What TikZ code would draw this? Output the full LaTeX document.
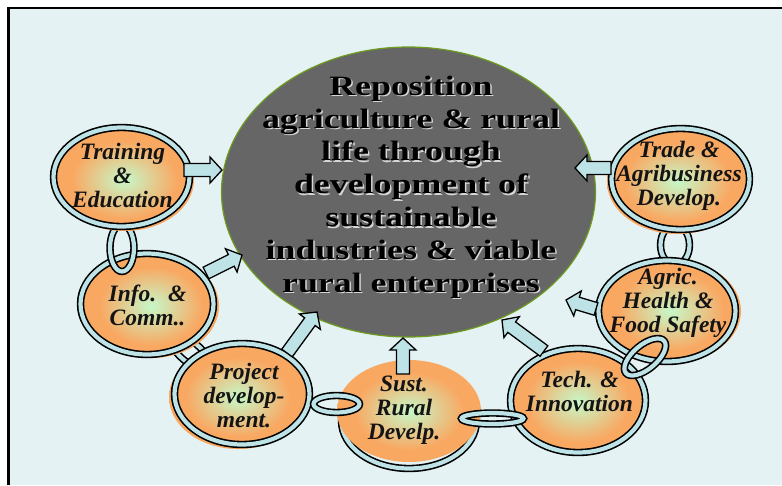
\documentclass[tikz,border=0pt]{standalone}
\usepackage{fontspec}
\usetikzlibrary{shapes.geometric,calc}
\newfontfamily\cfont[FakeStretch=1.28]{Liberation Serif}
\newfontfamily\lfont{Liberation Serif}
\definecolor{bgc}{HTML}{E4F2F3}
\definecolor{ringblue}{HTML}{BDE3E7}
\definecolor{cgray}{HTML}{666666}
\definecolor{cgreen}{HTML}{6E9C1E}
\definecolor{orng}{HTML}{F9A862}
\definecolor{lgreen}{HTML}{C6F8C8}
\definecolor{tshadow}{HTML}{D6D6D6}
\pgfdeclareradialshading{orgreen}{\pgfpoint{0bp}{0bp}}{color(0bp)=(lgreen); color(19bp)=(orng); color(25bp)=(orng); color(50bp)=(orng)}
\newcommand\barrow[2]{%
  \draw[arrowsty] let \p1=($(#2)-(#1)$), \n1={atan2(\y1,\x1)}, \n2={veclen(\x1,\y1)} in
    [shift={(#1)}, rotate=\n1] (0,6.5) -- (\n2-12,6.5) -- (\n2-12,13) -- (\n2,0) -- (\n2-12,-13) -- (\n2-12,-6.5) -- (0,-6.5) -- cycle;}
\begin{document}
\begin{tikzpicture}[x=1pt,y=-1pt,
  ring/.style={ellipse, inner sep=0pt, draw=black, line width=1.6pt, double=ringblue, double distance=4.2pt},
  bubfill/.style={ellipse, inner sep=0pt, shade, shading=orgreen},
  arrowsty/.style={draw=black, line width=1.3pt, fill=ringblue, line join=miter},
  lbl/.style={font={\lfont\bfseries\itshape\fontsize{23.5pt}{24pt}\selectfont}, align=center, inner sep=0pt, text=black!92},
  ctxt/.style={font={\cfont\bfseries\fontsize{28pt}{32.8pt}\selectfont}, align=center, inner sep=0pt}]
\useasboundingbox (0,0) rectangle (782,485);
\fill[white] (0,0) rectangle (782,485);
\fill[bgc] (9,8) rectangle (782,485);
\draw[line width=2.5pt] (8.5,485) -- (8.5,8) -- (782,8);

% central hub
\node[ellipse, inner sep=0pt, draw=cgreen, line width=1.2pt, fill=cgray, minimum width=374pt, minimum height=290pt] (hub) at (408.5,192) {};
\node[ctxt, text=tshadow] (hubshadow) at (412.5,188.5) {Reposition\\agriculture \& rural\\life through\\development of\\sustainable\\industries \& viable\\rural enterprises};
\node[ctxt, text=black] (hubtext) at (411,187) {Reposition\\agriculture \& rural\\life through\\development of\\sustainable\\industries \& viable\\rural enterprises};

% links behind
\node[ring, minimum width=48pt, minimum height=20pt, rotate=-40] (lip) at (190,352) {};
\node[ring, minimum width=29pt, minimum height=40pt] (lta) at (675,245) {};

% Info & Comm
\node[bubfill, minimum width=136pt, minimum height=104pt] (icf) at (151,306) {};
\node[ring, minimum width=133pt, minimum height=101pt] (ic) at (147,304) {};
\node[lbl] (ict) at (147.5,305.3) {Info.~~\&\\Comm..};
% link Training - Info
\node[ring, minimum width=24pt, minimum height=47pt] (lti) at (122,248) {};
% Training & Education
\node[bubfill, minimum width=139pt, minimum height=102pt] (tef) at (124.5,180) {};
\node[ring, minimum width=136pt, minimum height=99pt] (te) at (121.5,177) {};
\node[lbl] (tet) at (122.5,175) {Training\\\&\\Education};

% Project development
\node[bubfill, minimum width=138pt, minimum height=104pt] (pdf) at (238,397) {};
\node[ring, minimum width=135pt, minimum height=101pt] (pd) at (242,394) {};
\node[lbl] (pdt) at (244,395.7) {Project\\develop-\\ment.};

% Sust. Rural Develp.
\node[ring, minimum width=135pt, minimum height=95pt] (sr) at (409,421) {};
\node[bubfill, minimum width=144pt, minimum height=102pt] (srf) at (409,411) {};
\node[lbl] (srt) at (404,409.8) {Sust.\\Rural\\Develp.};
% link Project - Sust
\node[ring, minimum width=46pt, minimum height=17pt] (lps) at (336.5,404) {};

% Tech & Innovation
\node[bubfill, minimum width=137pt, minimum height=107pt] (tif) at (578,402) {};
\node[ring, minimum width=135pt, minimum height=104pt] (ti) at (578,400.5) {};
\node[lbl] (tit) at (579.5,391.3) {Tech. \&\\Innovation};
% link Sust - Tech
\node[ring, minimum width=62pt, minimum height=11pt] (lst) at (492.5,418.5) {};

% Agric Health & Food Safety
\node[bubfill, minimum width=140pt, minimum height=104pt] (ahf) at (671,311) {};
\node[ring, minimum width=137pt, minimum height=101pt] (ah) at (667,311) {};
\node[lbl] (aht) at (668,303.2) {Agric.\\Health \&\\Food Safety};
% link Tech - Agric
\node[ring, minimum width=50pt, minimum height=24pt, rotate=40] (lag) at (645,357) {};

% Trade & Agribusiness
\node[bubfill, minimum width=141pt, minimum height=104pt] (tdf) at (677.5,182) {};
\node[ring, minimum width=138pt, minimum height=101pt] (td) at (680.5,179) {};
\node[lbl] (tdt) at (679,176) {Trade \&\\Agribusiness\\Develop.};

% arrows
\coordinate (a1s) at (184,170); \coordinate (a1t) at (222,170);
\coordinate (a2s) at (206,273); \coordinate (a2t) at (242,255);
\coordinate (a3s) at (287,353); \coordinate (a3t) at (317,312);
\coordinate (a4s) at (403,374); \coordinate (a4t) at (403,338);
\coordinate (a5s) at (544,351); \coordinate (a5t) at (502,320);
\coordinate (a6s) at (596,309); \coordinate (a6t) at (566,300);
\coordinate (a7s) at (611,168); \coordinate (a7t) at (575,168);
\barrow{a1s}{a1t}
\barrow{a2s}{a2t}
\barrow{a3s}{a3t}
\barrow{a4s}{a4t}
\barrow{a5s}{a5t}
\barrow{a6s}{a6t}
\barrow{a7s}{a7t}
\end{tikzpicture}
\end{document}
